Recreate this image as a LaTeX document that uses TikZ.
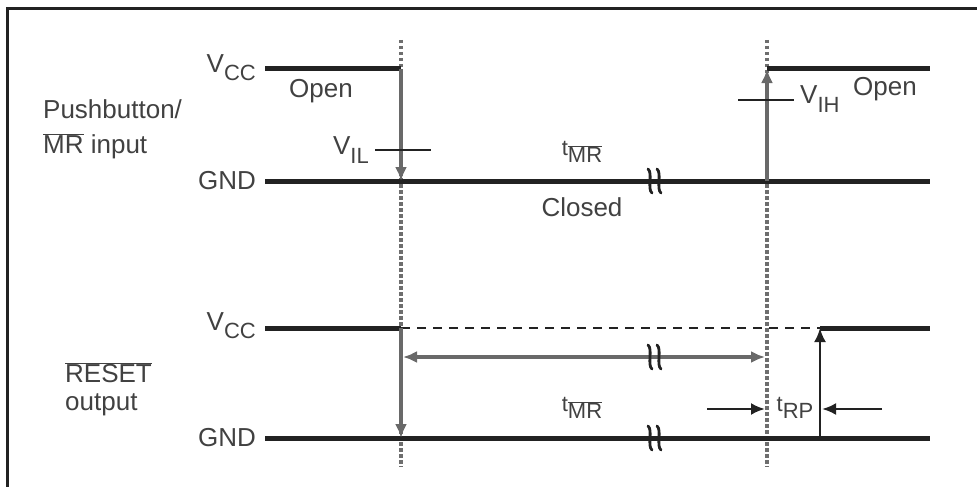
\documentclass[tikz,border=0pt]{standalone}
\usepackage{fontspec}
\setmainfont{Liberation Sans}
\usetikzlibrary{arrows.meta}
\definecolor{sigblack}{RGB}{34,34,34}
\definecolor{edgegray}{RGB}{105,105,105}
\definecolor{guidegray}{RGB}{110,110,110}
\definecolor{txtgray}{RGB}{65,65,65}
\newcommand{\lowsub}[1]{\raisebox{-0.32em}{\fontsize{22}{24}\selectfont #1}}
\newcommand{\mrbar}{$\overline{\mbox{MR}}$}

\begin{document}
\begin{tikzpicture}[
  x=1pt,y=-1pt,
  sig/.style={draw=sigblack,line width=5pt},
  edge/.style={draw=edgegray,line width=3.2pt,-{Latex[length=14pt,width=12pt]}},
  dimarrow/.style={draw=sigblack,line width=2.6pt,-{Latex[length=14pt,width=12pt]}},
  guide/.style={draw=guidegray,line width=3.2pt,dash pattern=on 3.5pt off 2.5pt},
  keep/.style={draw=sigblack,line width=2.6pt,dash pattern=on 9pt off 7pt},
  level/.style={draw=sigblack,line width=2pt},
  lbl/.style={font=\fontsize{26}{30}\selectfont,text=txtgray,inner sep=0pt},
  brk/.pic={
    \draw[sigblack,line width=2.8pt,line cap=round]
      (-5,-12) .. controls (0,-8) and (-6,8) .. (-1,12)
      (4,-12) .. controls (9,-8) and (3,8) .. (8,12);
  }
]
\useasboundingbox (0,0) rectangle (977,487);
% frame
\draw[sigblack,line width=3pt] (7,487) -- (7,9) -- (977,9);

% timing marks
\coordinate (m1top) at (401,40);
\coordinate (m1bot) at (401,467);
\coordinate (m2top) at (767,40);
\coordinate (m2bot) at (767,467);
\draw[guide] (m1top) -- (m1bot);
\draw[guide] (m2top) -- (m2bot);

% pushbutton / MR input
\node[lbl,anchor=west] (pb) at (43,109) {Pushbutton/};
\node[lbl,anchor=west] (mrin) at (43,146) {\mrbar{} input};
\node[lbl,anchor=east] (vcc1) at (256,68) {V\lowsub{CC}};
\node[lbl,anchor=east] (gnd1) at (256,181) {GND};
\coordinate (h1a) at (265,69);
\coordinate (h1b) at (401,69);
\coordinate (l1a) at (265,181);
\coordinate (l1b) at (401,181);
\coordinate (l1c) at (767,181);
\coordinate (l1d) at (930,181);
\coordinate (h1c) at (767,69);
\coordinate (h1d) at (930,69);
\draw[sig] (h1a) -- (h1b);
\draw[sig] (l1a) -- (l1d);
\draw[sig] (h1c) -- (h1d);
\draw[edge] (h1b) -- (l1b);
\draw[edge] (l1c) -- (h1c);
\coordinate (vila) at (375,150);
\coordinate (vilb) at (431,150);
\draw[level] (vila) -- (vilb);
\coordinate (viha) at (738,100);
\coordinate (vihb) at (794,100);
\draw[level] (viha) -- (vihb);
\node[lbl] (open1) at (321,91) {Open};
\node[lbl,anchor=east] (vil) at (369,150) {V\lowsub{IL}};
\node[lbl,anchor=west] (vih) at (800,99) {V\lowsub{IH}};
\node[lbl] (open2) at (885,89) {Open};
\node[lbl] (tmr1) at (582,152) {\fontsize{22}{24}\selectfont t\lowsub{\mrbar}};
\node[lbl] (closed) at (582,207) {Closed};
\pic at (653,181) {brk};

% RESET output
\node[lbl,anchor=west] (rst) at (65,373) {$\overline{\mbox{RESET}}$};
\node[lbl,anchor=west] (outp) at (65,405) {output};
\node[lbl,anchor=east] (vcc2) at (256,326) {V\lowsub{CC}};
\node[lbl,anchor=east] (gnd2) at (256,438) {GND};
\coordinate (h2a) at (265,328);
\coordinate (h2b) at (401,328);
\coordinate (h2c) at (820,328);
\coordinate (h2d) at (930,328);
\coordinate (l2a) at (265,438);
\coordinate (l2b) at (401,438);
\coordinate (l2c) at (820,438);
\coordinate (l2d) at (930,438);
\draw[sig] (h2a) -- (h2b);
\draw[keep] (h2b) -- (h2c);
\draw[sig] (h2c) -- (h2d);
\draw[sig] (l2a) -- (l2d);
\draw[edge] (h2b) -- (l2b);
\draw[dimarrow] (l2c) -- (h2c);
\coordinate (spa) at (403,357);
\coordinate (spb) at (765,357);
\draw[edge,{Latex[length=14pt,width=12pt]}-{Latex[length=14pt,width=12pt]}] (spa) -- (spb);
\pic at (653,357) {brk};
\pic at (653,438) {brk};
\node[lbl] (tmr2) at (582,408) {\fontsize{22}{24}\selectfont t\lowsub{\mrbar}};
\coordinate (rpa) at (707,409);
\coordinate (rpb) at (765,409);
\coordinate (rpc) at (882,409);
\coordinate (rpd) at (822,409);
\draw[dimarrow] (rpa) -- (rpb);
\draw[dimarrow] (rpc) -- (rpd);
\node[lbl] (trp) at (795,408) {\fontsize{22}{24}\selectfont t\lowsub{RP}};
\end{tikzpicture}
\end{document}
